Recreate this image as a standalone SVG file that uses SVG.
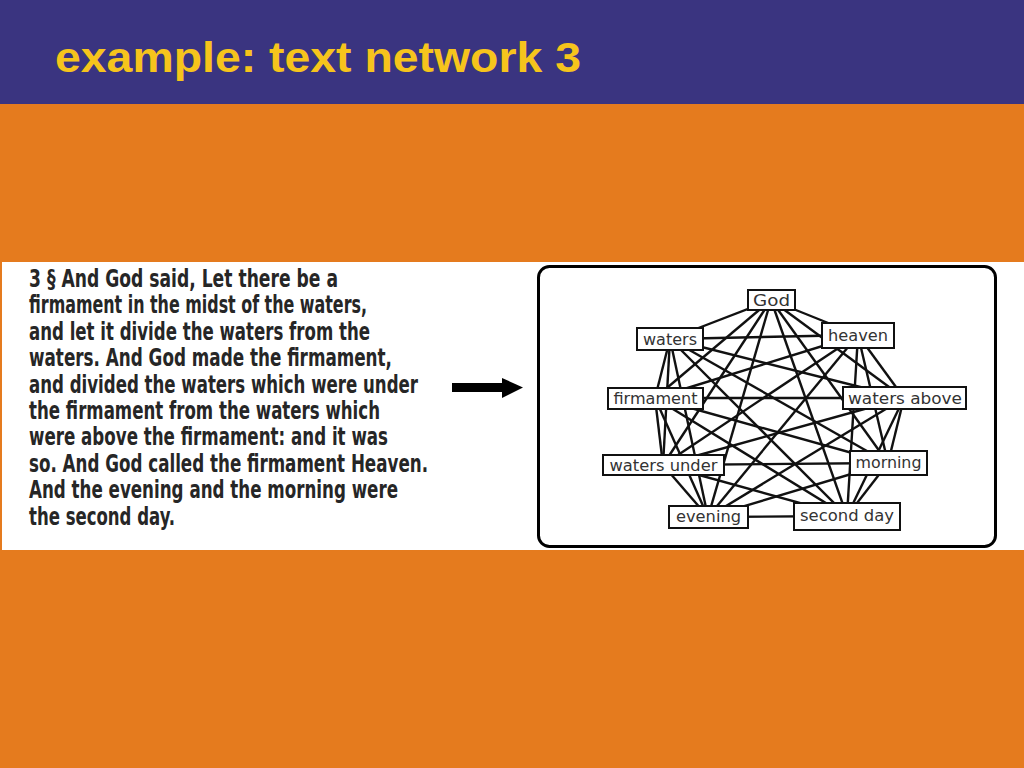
<svg xmlns="http://www.w3.org/2000/svg" width="1024" height="768" viewBox="0 0 1024 768">
<style>
.title{font-family:"Liberation Sans",Arial,sans-serif;font-weight:bold;font-size:43px;fill:#F6C41C}
.body{font-family:"DejaVu Sans Condensed","Liberation Sans Narrow","Liberation Sans",sans-serif;font-stretch:condensed;font-weight:bold;font-size:24px;fill:#262626}
.box{fill:#ffffff;stroke:#111;stroke-width:2}
.lbl{font-family:"DejaVu Sans","Liberation Sans",sans-serif;font-size:15px;fill:#333;text-anchor:middle}
#connectors line{stroke:#111;stroke-width:2.4}
</style>
<rect x="0" y="0" width="1024" height="768" fill="#E57B1E"/>
<rect x="0" y="0" width="1024" height="104" fill="#3A3480"/>
<text class="title" x="55" y="72" textLength="526" lengthAdjust="spacingAndGlyphs">example: text network 3</text>
<rect x="2" y="262" width="1022" height="288" fill="#ffffff"/>
<g id="passage">
<text class="body" x="29" y="287" textLength="309" lengthAdjust="spacingAndGlyphs">3 § And God said, Let there be a</text>
<text class="body" x="29" y="313.4" textLength="338" lengthAdjust="spacingAndGlyphs">firmament in the midst of the waters,</text>
<text class="body" x="29" y="339.8" textLength="341" lengthAdjust="spacingAndGlyphs">and let it divide the waters from the</text>
<text class="body" x="29" y="366.2" textLength="363" lengthAdjust="spacingAndGlyphs">waters. And God made the firmament,</text>
<text class="body" x="29" y="392.6" textLength="389" lengthAdjust="spacingAndGlyphs">and divided the waters which were under</text>
<text class="body" x="29" y="419" textLength="351" lengthAdjust="spacingAndGlyphs">the firmament from the waters which</text>
<text class="body" x="29" y="445.4" textLength="359" lengthAdjust="spacingAndGlyphs">were above the firmament: and it was</text>
<text class="body" x="29" y="471.8" textLength="399" lengthAdjust="spacingAndGlyphs">so. And God called the firmament Heaven.</text>
<text class="body" x="29" y="498.2" textLength="369" lengthAdjust="spacingAndGlyphs">And the evening and the morning were</text>
<text class="body" x="29" y="524.6" textLength="146" lengthAdjust="spacingAndGlyphs">the second day.</text>
</g>
<g id="arrow">
<rect x="452" y="383" width="52" height="9" fill="#000"/>
<polygon points="502,378 523,387.5 502,398" fill="#000"/>
</g>
<rect id="frame" x="538.5" y="266.5" width="457" height="280" rx="11" fill="#fff" stroke="#000" stroke-width="3"/>
<g id="connectors">
<line x1="771" y1="300" x2="670" y2="339"/>
<line x1="771" y1="300" x2="858" y2="335"/>
<line x1="771" y1="300" x2="655" y2="398"/>
<line x1="771" y1="300" x2="904" y2="398"/>
<line x1="771" y1="300" x2="663" y2="465"/>
<line x1="771" y1="300" x2="888" y2="463"/>
<line x1="771" y1="300" x2="708" y2="517"/>
<line x1="771" y1="300" x2="847" y2="516"/>
<line x1="670" y1="339" x2="858" y2="335"/>
<line x1="670" y1="339" x2="655" y2="398"/>
<line x1="670" y1="339" x2="904" y2="398"/>
<line x1="670" y1="339" x2="663" y2="465"/>
<line x1="670" y1="339" x2="888" y2="463"/>
<line x1="670" y1="339" x2="708" y2="517"/>
<line x1="670" y1="339" x2="847" y2="516"/>
<line x1="858" y1="335" x2="655" y2="398"/>
<line x1="858" y1="335" x2="904" y2="398"/>
<line x1="858" y1="335" x2="663" y2="465"/>
<line x1="858" y1="335" x2="888" y2="463"/>
<line x1="858" y1="335" x2="708" y2="517"/>
<line x1="858" y1="335" x2="847" y2="516"/>
<line x1="655" y1="398" x2="904" y2="398"/>
<line x1="655" y1="398" x2="663" y2="465"/>
<line x1="655" y1="398" x2="888" y2="463"/>
<line x1="655" y1="398" x2="708" y2="517"/>
<line x1="655" y1="398" x2="847" y2="516"/>
<line x1="904" y1="398" x2="663" y2="465"/>
<line x1="904" y1="398" x2="888" y2="463"/>
<line x1="904" y1="398" x2="708" y2="517"/>
<line x1="904" y1="398" x2="847" y2="516"/>
<line x1="663" y1="465" x2="888" y2="463"/>
<line x1="663" y1="465" x2="708" y2="517"/>
<line x1="663" y1="465" x2="847" y2="516"/>
<line x1="888" y1="463" x2="708" y2="517"/>
<line x1="888" y1="463" x2="847" y2="516"/>
<line x1="708" y1="517" x2="847" y2="516"/>
</g>
<g id="node-god"><rect class="box" x="748" y="290" width="47" height="20"/><text class="lbl" x="771.5" y="305.5" textLength="37" lengthAdjust="spacingAndGlyphs">God</text></g>
<g id="node-waters"><rect class="box" x="637" y="328" width="66" height="22"/><text class="lbl" x="670" y="344.5" textLength="54" lengthAdjust="spacingAndGlyphs">waters</text></g>
<g id="node-heaven"><rect class="box" x="822" y="323" width="72" height="25"/><text class="lbl" x="858" y="340.5" textLength="60" lengthAdjust="spacingAndGlyphs">heaven</text></g>
<g id="node-firmament"><rect class="box" x="608" y="388" width="95" height="21"/><text class="lbl" x="655.5" y="404" textLength="84" lengthAdjust="spacingAndGlyphs">firmament</text></g>
<g id="node-waters-above"><rect class="box" x="843" y="387" width="123" height="22"/><text class="lbl" x="905" y="403.5" textLength="114" lengthAdjust="spacingAndGlyphs">waters above</text></g>
<g id="node-waters-under"><rect class="box" x="603" y="455" width="121" height="20"/><text class="lbl" x="663.5" y="470.5" textLength="108" lengthAdjust="spacingAndGlyphs">waters under</text></g>
<g id="node-morning"><rect class="box" x="850" y="451" width="77" height="24"/><text class="lbl" x="888.5" y="467.5" textLength="66" lengthAdjust="spacingAndGlyphs">morning</text></g>
<g id="node-evening"><rect class="box" x="669" y="506" width="79" height="22"/><text class="lbl" x="708.5" y="522" textLength="65" lengthAdjust="spacingAndGlyphs">evening</text></g>
<g id="node-second-day"><rect class="box" x="794" y="503" width="106" height="27"/><text class="lbl" x="847" y="521" textLength="94" lengthAdjust="spacingAndGlyphs">second day</text></g>
</svg>
